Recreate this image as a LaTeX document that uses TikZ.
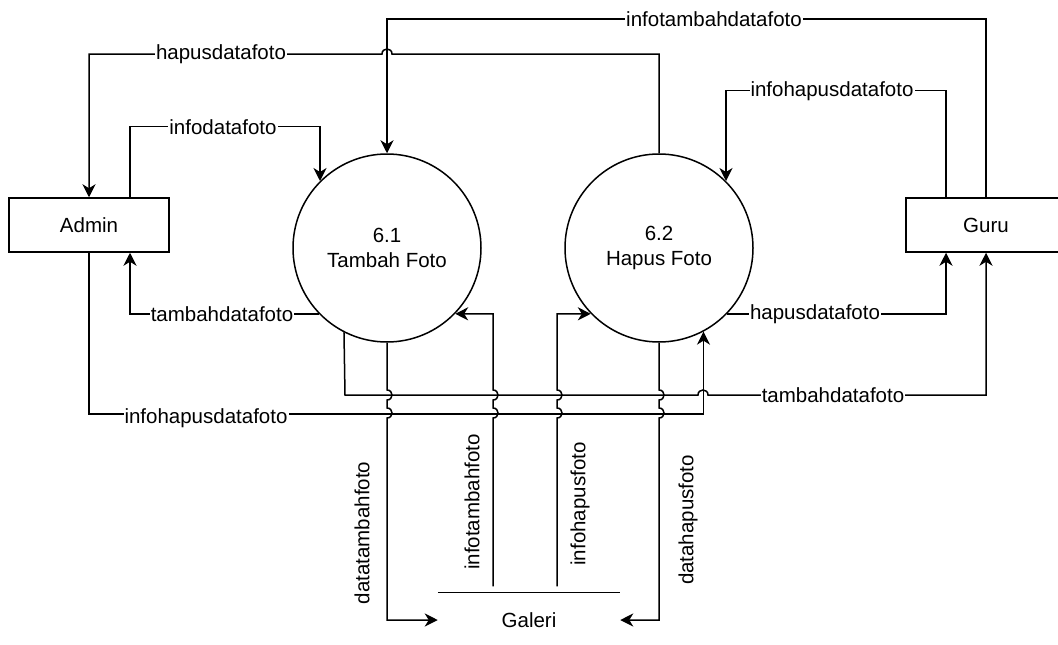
\documentclass[tikz,border=0pt]{standalone}
\usepackage{fontspec}
\setmainfont{Liberation Sans}
\usetikzlibrary{arrows.meta,calc}
\begin{document}
\begin{tikzpicture}[x=1pt,y=-1pt,
  font=\fontsize{20.5}{25}\selectfont,
  line width=1.5pt,
  entity/.style={draw, rectangle, minimum width=160pt, minimum height=54pt, inner sep=0pt},
  proc/.style={draw, circle, minimum size=188pt, inner sep=0pt, align=center},
  store/.style={rectangle, minimum width=181pt, minimum height=54pt, inner sep=0pt},
  flow/.style={-{Stealth[length=13pt,width=13pt,inset=4pt]}},
  lbl/.style={fill=white, inner sep=1pt}
]
\useasboundingbox (0,0) rectangle (1058,645);

\node[entity] (admin) at (89,225) {Admin};
\node[entity] (guru) at (986,225) {Guru};
\node[proc] (p1) at (387,248) {6.1\\Tambah Foto};
\node[proc] (p2) at (659,248) {6.2\\Hapus Foto};
\node[store] (gal) at (529,620) {Galeri};
\draw (gal.north west) -- (gal.north east);

% hapusdatafoto (top)
\draw[flow] (p2.north) -- (659,54) -- (392,54) .. controls (392,47.3) and (382,47.3) .. (382,54) -- (89,54) -- (admin.north);
\node[lbl] (l1) at (221,54) {hapusdatafoto};

% infotambahdatafoto
\draw[flow] (guru.north) -- (986,19) -- (387,19) -- (p1.north);
\node[lbl] (l2) at (714,19) {infotambahdatafoto};

% infodatafoto
\draw[flow] ([xshift=41pt]admin.north) -- ++(0,-71) -| (p1.135);
\node[lbl] (l3) at (223,127) {infodatafoto};

% infohapusdatafoto (top right)
\draw[flow] ([xshift=-40pt]guru.north) -- ++(0,-107) -| (p2.45);
\node[lbl] (l4) at (832,91) {infohapusdatafoto};

% tambahdatafoto (left)
\draw[flow] (p1.224) -| ([xshift=41pt]admin.south);
\node[lbl] (l5) at (222,314) {tambahdatafoto};

% hapusdatafoto (right)
\draw[flow] (p2.-44) -| ([xshift=-40pt]guru.south);
\node[lbl] (l6) at (815,314) {hapusdatafoto};

% tambahdatafoto (bottom)
\draw[flow] (p1.243.5) -- (345,395) -- (698,395) .. controls (698,388.3) and (708,388.3) .. (708,395) -- (986,395) -- (guru.south);
\node[lbl] (l7) at (833,395) {tambahdatafoto};

% infohapusdatafoto (bottom left)
\draw[flow] (admin.south) -- ++(0,161) -| (p2.-62);
\node[lbl] (l8) at (206,418) {infohapusdatafoto};

% datatambahfoto
\draw[flow] (p1.south) -- (387,390) .. controls (393.7,390) and (393.7,400) .. (387,400) -- (387,408) .. controls (393.7,408) and (393.7,418) .. (387,418) |- (gal.west);
\node[lbl, rotate=90] (l9) at (362,533) {datatambahfoto};

% infotambahfoto
\draw[flow] ([xshift=-36pt,yshift=6pt]gal.north) -- (493,418) .. controls (499.7,418) and (499.7,408) .. (493,408) -- (493,400) .. controls (499.7,400) and (499.7,390) .. (493,390) |- (p1.-44);
\node[lbl, rotate=90] (l10) at (472,502) {infotambahfoto};

% infohapusfoto
\draw[flow] ([xshift=28pt,yshift=6pt]gal.north) -- (557,418) .. controls (563.7,418) and (563.7,408) .. (557,408) -- (557,400) .. controls (563.7,400) and (563.7,390) .. (557,390) |- (p2.224);
\node[lbl, rotate=90] (l11) at (580,504) {infohapusfoto};

% datahapusfoto
\draw[flow] (p2.south) -- (659,390) .. controls (665.7,390) and (665.7,400) .. (659,400) -- (659,408) .. controls (665.7,408) and (665.7,418) .. (659,418) |- (gal.east);
\node[lbl, rotate=90] (l12) at (688,520) {datahapusfoto};
\end{tikzpicture}
\end{document}
